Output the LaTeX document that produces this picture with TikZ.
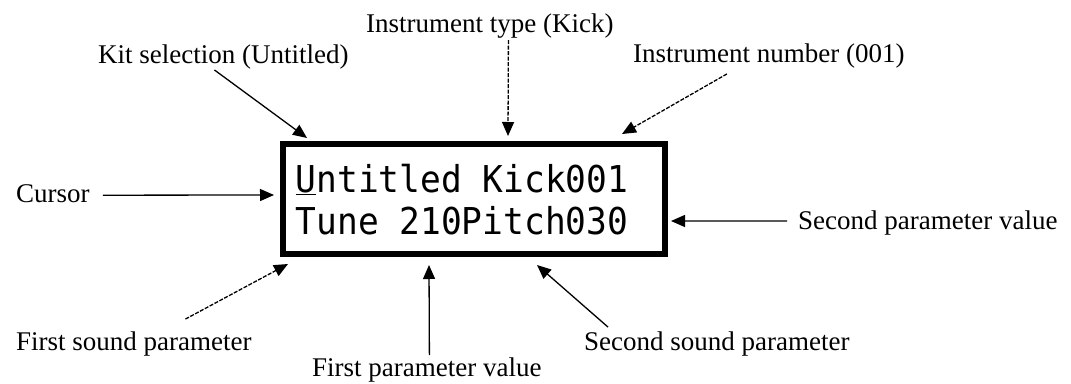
\documentclass[tikz,border=0pt]{standalone}
\usepackage{fontspec}
\setmainfont{Liberation Serif}
\newfontfamily\lcdfont[FakeStretch=0.933]{DejaVu Sans Mono}
\usepackage{tikz}
\usetikzlibrary{arrows.meta}

\begin{document}
\begin{tikzpicture}[x=1pt,y=-1pt,
    callout/.style={inner sep=0pt,anchor=base west,font=\fontsize{27}{30}\selectfont},
    lcdrow/.style={inner sep=0pt,anchor=base west,font=\lcdfont\fontsize{37}{40}\selectfont},
    pointer/.style={-{Triangle[length=14pt,width=12pt]},line width=1.3pt},
    faint/.style={pointer,dash pattern=on 4pt off 1.5pt}]
  \useasboundingbox (0,0) rectangle (1071,383);
  % display
  \node[draw,line width=6pt,minimum width=382pt,minimum height=110pt,inner sep=0pt] (lcd) at (474,199) {};
  \node[lcdrow] (row1) at (295.5,192) {\underline{U}ntitled Kick001};
  \node[lcdrow] (row2) at (295.5,234) {Tune 210Pitch030};
  % labels
  \node[callout] (kit) at (98,63) {Kit selection (Untitled)};
  \node[callout] (type) at (366,32) {Instrument type (Kick)};
  \node[callout] (number) at (633,62) {Instrument number (001)};
  \node[callout] (cursor) at (16,202) {Cursor};
  \node[callout] (secval) at (798,229) {Second parameter value};
  \node[callout] (fstsnd) at (16,350) {First sound parameter};
  \node[callout] (secsnd) at (584,350) {Second sound parameter};
  \node[callout] (fstval) at (312,376) {First parameter value};
  % arrow tips
  \coordinate (kit tip) at (307,138);
  \coordinate (type tip) at (508,136);
  \coordinate (number tip) at (622,134);
  \coordinate (cursor tip) at (274,195);
  \coordinate (secval tip) at (671,221);
  \coordinate (fstsnd tip) at (288,264);
  \coordinate (fstval tip) at (429,265);
  \coordinate (secsnd tip) at (537,265);
  % arrows
  \draw[pointer] ([xshift=-9pt,yshift=-1pt]kit.south) -- (kit tip);
  \draw[faint] ([xshift=18.5pt,yshift=-2pt]type.south) -- (type tip);
  \draw[faint] ([xshift=-42pt,yshift=-6pt]number.south) -- (number tip);
  \draw[pointer] ([xshift=13pt,yshift=-2pt]cursor.east) -- (cursor tip);
  \draw[pointer] ([xshift=-11pt,yshift=1.5pt]secval.west) -- (secval tip);
  \draw[faint] ([xshift=51.5pt,yshift=12pt]fstsnd.north) -- (fstsnd tip);
  \draw[pointer] ([xshift=2.5pt,yshift=2pt]fstval.north) -- (fstval tip);
  \draw[pointer] ([xshift=24pt,yshift=4pt]secsnd.north west) -- (secsnd tip);
\end{tikzpicture}
\end{document}
